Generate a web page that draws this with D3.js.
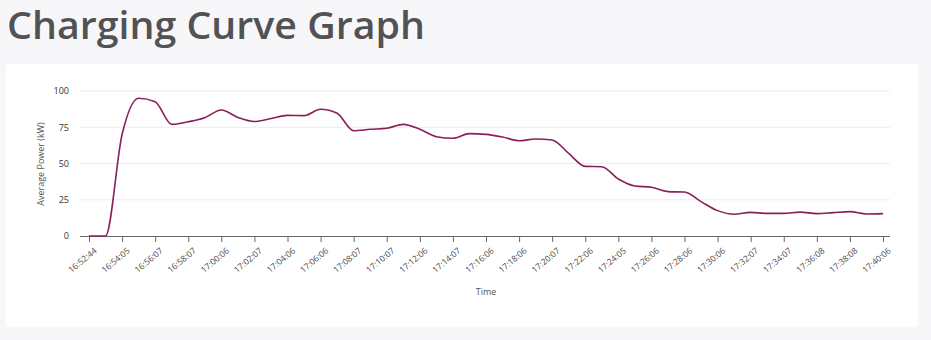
<!DOCTYPE html>
<html>
<head>
<meta charset="utf-8">
<script src="https://cdn.jsdelivr.net/npm/d3@7"></script>
<style>
  html, body { margin: 0; padding: 0; background: #f7f7f9; }
  svg { display: block; }
</style>
</head>
<body>
<script>
// Tick labels (every other data point)
const tickLabels = ["16:52:44","16:54:05","16:56:07","16:58:07","17:00:06","17:02:07","17:04:06","17:06:06","17:08:07","17:10:07","17:12:06","17:14:07","17:16:06","17:18:06","17:20:07","17:22:06","17:24:05","17:26:06","17:28:06","17:30:06","17:32:07","17:34:07","17:36:08","17:38:08","17:40:06"];
// Average power (kW), one value per sample (about one per minute)
const powerValues = [0, 0, 70, 95, 92.6, 77, 78.8, 81.6, 86.9, 81.8, 79, 81, 83.2, 83, 87.4, 84.6, 72.6, 73.6, 74.3, 77, 73.6, 68.5, 67.4, 70.6, 70.1, 68.3, 65.7, 66.9, 66.2, 57, 48, 47.8, 39.3, 34.5, 33.6, 30.6, 30.3, 23.7, 17.5, 15, 16.3, 15.6, 15.6, 16.5, 15.4, 16.1, 16.8, 15.2, 15.4];
const yTicks = [0, 25, 50, 75, 100];

const W = 931, H = 340;
const svg = d3.select("body").append("svg").attr("width", W).attr("height", H);

svg.append("text")
  .attr("x", 7).attr("y", 39)
  .attr("font-family", "'Open Sans', Lato, sans-serif")
  .attr("font-size", 37).attr("font-weight", 600)
  .attr("fill", "#525254")
  .attr("textLength", 418).attr("lengthAdjust", "spacingAndGlyphs")
  .text("Charging Curve Graph");

svg.append("rect")
  .attr("x", 6).attr("y", 64).attr("width", 912).attr("height", 263)
  .attr("rx", 3).attr("fill", "#ffffff");

const x = d3.scaleLinear().domain([0, powerValues.length - 1]).range([89, 883]);
const y = d3.scaleLinear().domain([0, 100]).range([236, 91]);

const g = svg.append("g");

// gridlines
g.append("g").selectAll("line").data(yTicks.filter(d => d > 0)).join("line")
  .attr("x1", 80).attr("x2", 890)
  .attr("y1", d => y(d)).attr("y2", d => y(d))
  .attr("stroke", "#ececec").attr("stroke-width", 1);

// y axis (labels only)
const yAxis = g.append("g").attr("transform", "translate(80,0)")
  .call(d3.axisLeft(y).tickValues(yTicks).tickSize(0).tickPadding(11));
yAxis.select(".domain").remove();
yAxis.selectAll("text").attr("font-family", "'Open Sans', sans-serif").attr("font-size", 9).attr("fill", "#333");

// x axis
const tickIdx = tickLabels.map((_, i) => i * 2);
const xAxis = g.append("g").attr("transform", "translate(0,236)")
  .call(d3.axisBottom(x).tickValues(tickIdx).tickFormat((d, i) => tickLabels[i]).tickSize(6).tickSizeOuter(0));
xAxis.select(".domain").attr("d", "M80,0.5H890").attr("stroke", "#666");
xAxis.selectAll(".tick line").attr("stroke", "#666");
xAxis.selectAll("text")
  .attr("font-family", "'Open Sans', sans-serif").attr("font-size", 8.5).attr("fill", "#4a4a4a")
  .attr("text-anchor", "end")
  .attr("x", 0).attr("y", 0).attr("dx", 0).attr("dy", "0.71em")
  .attr("transform", "translate(4,11) rotate(-40)");

// axis titles
svg.append("text")
  .attr("transform", "translate(44,164) rotate(-90)")
  .attr("text-anchor", "middle")
  .attr("font-family", "'Open Sans', sans-serif").attr("font-size", 9).attr("fill", "#555")
  .text("Average Power (kW)");
svg.append("text")
  .attr("x", 486).attr("y", 295)
  .attr("text-anchor", "middle")
  .attr("font-family", "'Open Sans', sans-serif").attr("font-size", 9).attr("fill", "#555")
  .text("Time");

// line
const line = d3.line().x((d, i) => x(i)).y(d => y(d)).curve(d3.curveMonotoneX);
g.append("path").datum(powerValues)
  .attr("d", line)
  .attr("fill", "none").attr("stroke", "#8a1f5a").attr("stroke-width", 1.6);
</script>
</body>
</html>
